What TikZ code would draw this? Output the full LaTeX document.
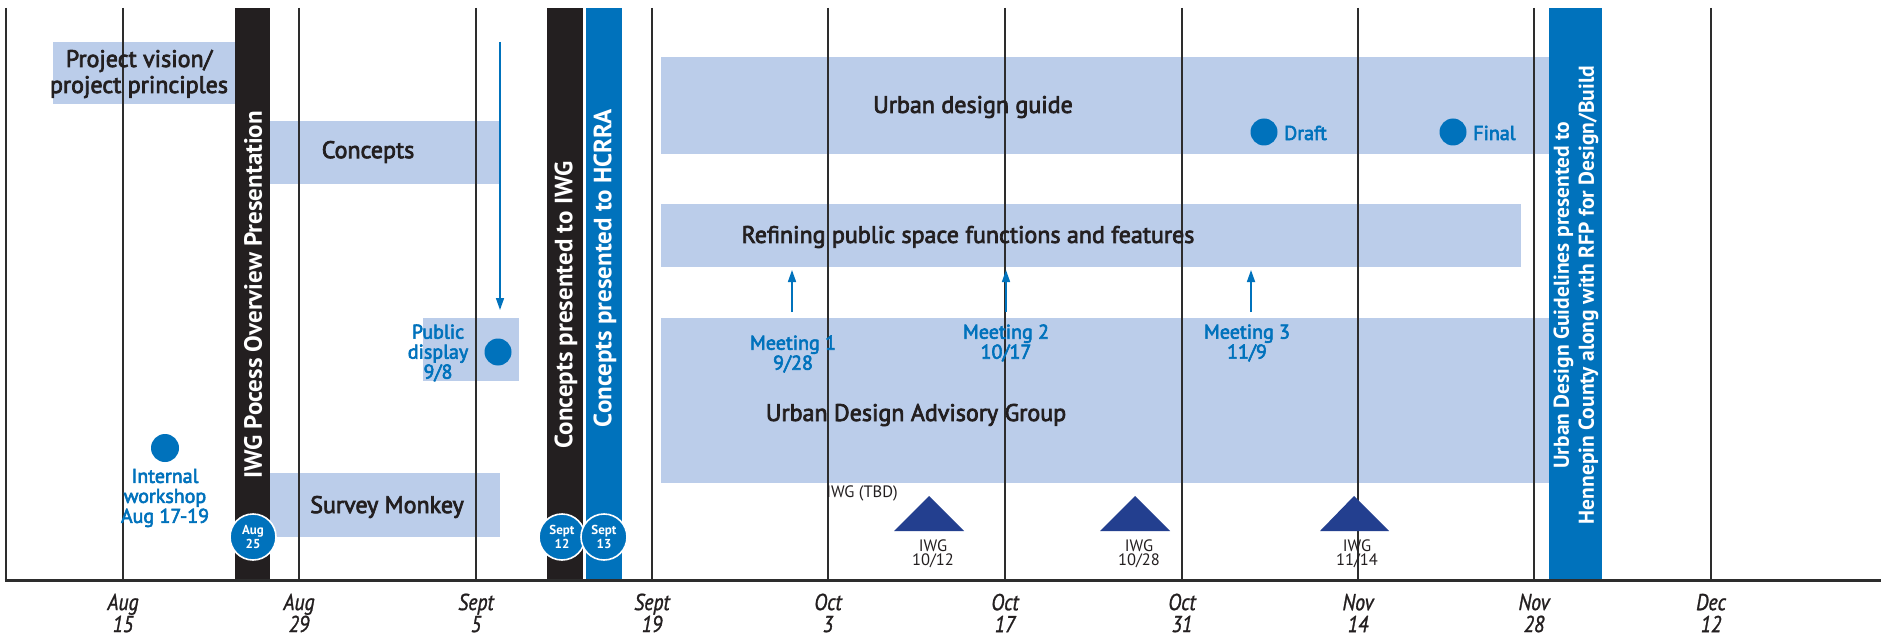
\documentclass[tikz,border=0pt]{standalone}
\usepackage{fontspec}
\setmainfont{PT Sans}
\newfontfamily\semib[FakeBold=3]{PT Sans}
\newfontfamily\condit[FakeStretch=0.86,FakeBold=1.2]{PT Sans}
\usetikzlibrary{arrows.meta}
\definecolor{myblue}{RGB}{0,114,188}
\definecolor{lightbox}{RGB}{187,205,234}
\definecolor{darkbar}{RGB}{35,31,32}
\definecolor{navy}{RGB}{35,63,143}
\definecolor{gridc}{RGB}{45,45,45}
\begin{document}
\begin{tikzpicture}[x=1pt,y=-1pt,
  band/.style={fill=lightbox, draw=none, inner sep=0pt},
  barbox/.style={draw=none, inner sep=0pt, minimum height=572pt},
  bartext/.style={text=white, rotate=90, inner sep=0pt, align=center,
     font=\fontsize{25}{27}\selectfont\bfseries},
  boxtext/.style={text=darkbar, inner sep=0pt, align=center,
     font=\semib\fontsize{24}{26}\selectfont},
  bluetext/.style={text=myblue, inner sep=0pt, align=center,
     font=\semib\fontsize{20}{20}\selectfont},
  smalltext/.style={text=darkbar, inner sep=0pt, align=center,
     font=\fontsize{16.5}{14.5}\selectfont},
  ticklabel/.style={text=darkbar, inner sep=0pt, align=center,
     font=\condit\itshape\fontsize{23}{22}\selectfont},
  datecircle/.style={circle, fill=myblue, draw=white, line width=1.6pt,
     minimum size=46pt, inner sep=0pt, text=white, align=center,
     font=\fontsize{13}{14}\selectfont\bfseries},
  dot/.style={circle, fill=myblue, draw=none, minimum size=27pt, inner sep=0pt},
  gridline/.style={draw=gridc, line width=1.3pt},
  bluearrow/.style={draw=myblue, line width=1.6pt, -{Triangle[length=12pt,width=8pt]}},
  tri/.style={fill=navy}
]
\useasboundingbox (0,0) rectangle (1881,636);
\fill[white] (0,0) rectangle (1881,636);

% light blue bands
\node[band, minimum width=182pt, minimum height=62pt] (pv) at (144,73) {};
\node[band, minimum width=230pt, minimum height=63pt] (concepts) at (385,152.5) {};
\node[band, minimum width=230pt, minimum height=64pt] (survey) at (385,505) {};
\node[band, minimum width=96pt, minimum height=63pt] (pubbox) at (471,349.5) {};
\node[band, minimum width=888pt, minimum height=97pt] (udg) at (1105,105.5) {};
\node[band, minimum width=860pt, minimum height=63pt] (refining) at (1091,235.5) {};
\node[band, minimum width=888pt, minimum height=165pt] (udag) at (1105,400.5) {};

% grid lines
\draw[gridline] (6,8) -- (6,580);
\foreach \gx in {123,299,476,652,828,1005,1182,1358,1534,1711}
  \draw[gridline] (\gx,8) -- (\gx,580);

% vertical bars
\node[barbox, fill=darkbar, minimum width=35pt] (iwgbar) at (252.5,294) {};
\node[barbox, fill=darkbar, minimum width=36pt] (cibar) at (565,294) {};
\node[barbox, fill=myblue, minimum width=36pt] (chbar) at (604,294) {};
\node[barbox, fill=myblue, minimum width=53pt] (udbar) at (1575.5,294) {};

\node[bartext] (iwgtext) at (253,295) {IWG Pocess Overview Presentation};
\node[bartext] (citext) at (566,305) {Concepts presented to IWG};
\node[bartext] (chtext) at (605,268) {Concepts presented to HCRRA};
\node[bartext, font=\fontsize{21.5}{25}\selectfont\bfseries] (udtext) at (1576,295)
  {Urban Design Guidelines presented to\\Hennepin County along with RFP for Design/Build};

% baseline
\draw[draw=gridc, line width=3pt] (4.5,580) -- (1881,580);

% box texts
\node[boxtext] (pvtext) at (139,74) {Project vision/\\project principles};
\node[boxtext] (conctext) at (368,152) {Concepts};
\node[boxtext] (survtext) at (387,507) {Survey Monkey};
\node[boxtext] (udgtext) at (973,107) {Urban design guide};
\node[boxtext] (reftext) at (968,237) {Refining public space functions and features};
\node[boxtext] (udagtext) at (916,415) {Urban Design Advisory Group};

% blue labels and dots
\node[bluetext] (pubtext) at (438,353) {Public\\display\\9/8};
\node[dot] (pubdot) at (498,352) {};
\node[dot, minimum size=28pt] (iwdot) at (165,448) {};
\node[bluetext] (iwtext) at (165,498) {Internal\\workshop\\Aug 17-19};
\node[bluetext] (m1) at (793,354) {Meeting 1\\9/28};
\node[bluetext] (m2) at (1006,343) {Meeting 2\\10/17};
\node[bluetext] (m3) at (1247,343) {Meeting 3\\11/9};
\node[dot] (draftdot) at (1264,132) {};
\node[bluetext, anchor=west] (drafttext) at (1284,133) {Draft};
\node[dot] (finaldot) at (1453,132) {};
\node[bluetext, anchor=west] (finaltext) at (1473,133) {Final};

% arrows
\coordinate (dtop) at (500,42);
\coordinate (dtip) at (500,310);
\draw[bluearrow] (dtop) -- (dtip);
\coordinate (a1s) at (792,312);
\coordinate (a1e) at (792,270);
\coordinate (a2s) at (1006,312);
\coordinate (a2e) at (1006,270);
\coordinate (a3s) at (1251,312);
\coordinate (a3e) at (1251,270);
\draw[bluearrow] (a1s) -- (a1e);
\draw[bluearrow] (a2s) -- (a2e);
\draw[bluearrow] (a3s) -- (a3e);

% IWG triangles
\node[smalltext] (tbd) at (862,493) {IWG (TBD)};
\fill[tri] (929,496) -- (894,531) -- (964,531) -- cycle;
\fill[tri] (1135,496) -- (1100,531) -- (1170,531) -- cycle;
\fill[tri] (1354,496) -- (1320,531) -- (1389,531) -- cycle;
\node[smalltext] (iwg1) at (933,554) {IWG\\10/12};
\node[smalltext] (iwg2) at (1139,554) {IWG\\10/28};
\node[smalltext] (iwg3) at (1357,554) {IWG\\11/14};

% date circles
\node[datecircle] (c25) at (253,537) {Aug\\25};
\node[datecircle] (c12) at (562,537) {Sept\\12};
\node[datecircle] (c13) at (604,537) {Sept\\13};

% axis labels
\node[ticklabel] (t1) at (123,613) {Aug\\15};
\node[ticklabel] (t2) at (299,613) {Aug\\29};
\node[ticklabel] (t3) at (476,613) {Sept\\5};
\node[ticklabel] (t4) at (652,613) {Sept\\19};
\node[ticklabel] (t5) at (828,613) {Oct\\3};
\node[ticklabel] (t6) at (1005,613) {Oct\\17};
\node[ticklabel] (t7) at (1182,613) {Oct\\31};
\node[ticklabel] (t8) at (1358,613) {Nov\\14};
\node[ticklabel] (t9) at (1534,613) {Nov\\28};
\node[ticklabel] (t10) at (1711,613) {Dec\\12};
\end{tikzpicture}
\end{document}
